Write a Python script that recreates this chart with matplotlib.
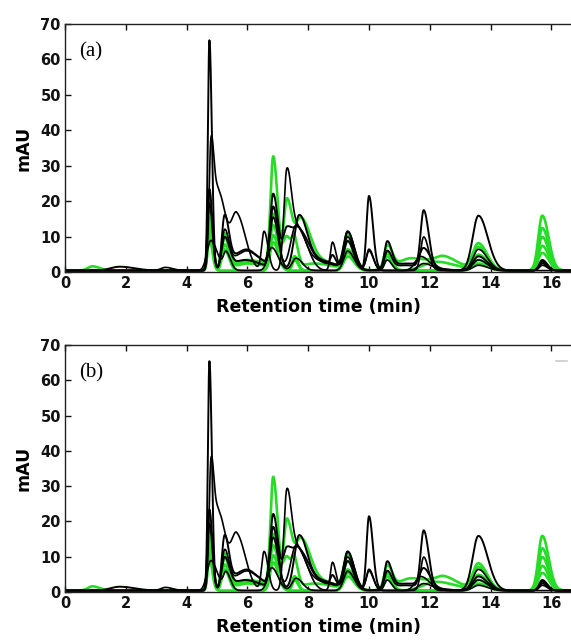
import numpy as np
import matplotlib
matplotlib.use("Agg")
import matplotlib.pyplot as plt

# ---------------- data (peak tables) ----------------
# each trace: peak centres (min), heights (mAU), widths (sigma, min)
t1_c = [4.75, 5.25, 5.9, 6.85, 7.30, 7.70, 8.20, 8.80, 9.30, 10.00, 10.60, 11.20, 11.80, 13.60, 15.70]
t1_h = [65.0, 9.0, 3.0, 21.0, 11.0, 10.0, 2.5, 3.0, 8.0, 21.0, 5.0, 1.5, 16.0, 15.5, 2.5]
t1_w = [0.05, 0.10, 0.35, 0.10, 0.12, 0.18, 0.35, 0.07, 0.12, 0.08, 0.09, 0.45, 0.10, 0.19, 0.10]

t2_c = [3.30, 4.80, 5.05, 5.65, 6.55, 7.30, 7.70, 8.80, 9.30, 10.00, 11.80, 13.60, 15.70]
t2_h = [0.9, 32.0, 22.0, 15.5, 11.0, 28.0, 11.0, 8.0, 11.0, 6.0, 9.5, 6.0, 2.0]
t2_w = [0.15, 0.06, 0.15, 0.18, 0.08, 0.10, 0.18, 0.07, 0.13, 0.09, 0.10, 0.18, 0.10]

t3_c = [1.80, 4.75, 5.25, 5.70, 6.10, 6.85, 7.70, 8.30, 9.30, 10.60, 11.20, 11.80, 13.60, 15.70]
t3_h = [1.1, 23.0, 15.0, 3.5, 3.5, 17.0, 15.0, 3.0, 10.5, 7.5, 2.0, 5.0, 4.0, 3.0]
t3_w = [0.30, 0.06, 0.09, 0.25, 0.30, 0.10, 0.16, 0.35, 0.13, 0.09, 0.45, 0.13, 0.18, 0.10]

t4_c = [4.75, 5.25, 5.70, 6.10, 6.85, 7.60, 8.30, 9.30, 10.00, 11.70, 13.60, 15.70]
t4_h = [19.0, 11.0, 3.0, 3.5, 14.0, 12.5, 2.5, 9.0, 5.5, 4.0, 3.0, 1.5]
t4_w = [0.06, 0.09, 0.25, 0.30, 0.10, 0.18, 0.35, 0.13, 0.09, 0.18, 0.18, 0.10]

t5_c = [4.80, 5.30, 6.80, 7.60, 9.30, 10.60, 11.80, 13.60]
t5_h = [8.5, 5.0, 6.5, 3.5, 5.5, 3.0, 2.0, 1.5]
t5_w = [0.13, 0.09, 0.13, 0.13, 0.13, 0.09, 0.18, 0.18]

g1_c = [4.75, 5.25, 6.00, 6.85, 7.30, 7.75, 8.20, 9.30, 10.60, 11.40, 12.50, 13.60, 15.70]
g1_h = [19.0, 10.0, 3.0, 31.0, 19.0, 13.0, 3.0, 9.5, 6.5, 3.5, 3.0, 7.5, 15.5]
g1_w = [0.06, 0.10, 0.40, 0.09, 0.10, 0.18, 0.40, 0.13, 0.10, 0.45, 0.30, 0.18, 0.13]

g2_c = [0.90, 4.75, 5.25, 6.00, 6.85, 7.30, 7.55, 8.20, 9.30, 10.60, 12.20, 13.60, 15.70]
g2_h = [1.2, 15.0, 9.0, 2.5, 15.0, 9.0, 5.0, 2.0, 8.0, 5.0, 2.5, 6.5, 12.0]
g2_w = [0.15, 0.06, 0.09, 0.40, 0.10, 0.13, 0.07, 0.40, 0.13, 0.10, 0.40, 0.18, 0.13]

g3_c = [4.75, 5.25, 6.00, 6.85, 7.55, 9.30, 10.60, 13.60, 15.70]
g3_h = [13.0, 7.0, 2.0, 12.0, 4.0, 6.0, 4.0, 4.5, 9.5]
g3_w = [0.06, 0.09, 0.40, 0.10, 0.07, 0.13, 0.10, 0.18, 0.13]

g4_c = [4.75, 5.25, 6.85, 7.55, 9.30, 13.60, 15.70]
g4_h = [11.0, 6.0, 10.0, 3.0, 5.0, 3.0, 7.0]
g4_w = [0.06, 0.09, 0.10, 0.07, 0.13, 0.18, 0.13]

g5_c = [4.75, 6.85, 9.30, 13.60, 15.70]
g5_h = [9.0, 8.0, 4.0, 2.0, 5.0]
g5_w = [0.06, 0.10, 0.13, 0.18, 0.13]

traces = [
    (g1_c, g1_h, g1_w, "#27dc27", 1.9),
    (g2_c, g2_h, g2_w, "#27dc27", 1.9),
    (g3_c, g3_h, g3_w, "#27dc27", 1.9),
    (g4_c, g4_h, g4_w, "#27dc27", 1.9),
    (g5_c, g5_h, g5_w, "#27dc27", 1.9),
    (t1_c, t1_h, t1_w, "black", 1.4),
    (t2_c, t2_h, t2_w, "black", 1.2),
    (t3_c, t3_h, t3_w, "black", 1.4),
    (t4_c, t4_h, t4_w, "black", 1.2),
    (t5_c, t5_h, t5_w, "black", 1.2),
]

panel_labels = ["(a)", "(b)"]
x_ticks = [0, 2, 4, 6, 8, 10, 12, 14, 16]
y_ticks = [0, 10, 20, 30, 40, 50, 60, 70]
baseline_level = 0.4
tail_factor = 1.6   # peak tailing: right-side width relative to left

# ---------------- figure ----------------
plt.rcParams["font.family"] = ["DejaVu Sans"]
fig = plt.figure(figsize=(5.71, 6.41), dpi=100)

W, H = 571, 641
left_px, right_px = 65, 571
panels_px = [(24, 272), (345, 592)]
x_max = (right_px - left_px) / 30.4

t = np.linspace(0, 17, 3401)

def chromatogram(c, h, w):
    y = np.zeros_like(t)
    for ci, hi, wi in zip(c, h, w):
        s = np.where(t < ci, wi, wi * tail_factor)
        y += hi * np.exp(-0.5 * ((t - ci) / s) ** 2)
    y += baseline_level
    return y

for i, ((top, bot), lab) in enumerate(zip(panels_px, panel_labels)):
    ax = fig.add_axes([left_px / W, 1 - bot / H, (right_px - left_px) / W, (bot - top) / H])
    for c, h, w, col, lw in traces:
        ax.plot(t, chromatogram(c, h, w), color=col, lw=lw)
    ax.set_xlim(0, x_max)
    ax.set_ylim(0, 70)
    ax.set_xticks(x_ticks)
    ax.set_yticks(y_ticks)
    ax.spines["right"].set_visible(False)
    for s in ["top", "left", "bottom"]:
        ax.spines[s].set_linewidth(1.0)
        ax.spines[s].set_color("#222222")
    ax.tick_params(direction="in", top=True, bottom=True, left=True, right=False,
                   length=4, width=1, labelsize=10.5, pad=3, colors="#111111")
    for lbl in ax.get_xticklabels() + ax.get_yticklabels():
        lbl.set_fontweight("bold")
    ax.set_xlabel("Retention time (min)", fontsize=12.5, fontweight="bold", labelpad=5)
    ax.set_ylabel("mAU", fontsize=12.5, fontweight="bold", labelpad=6)
    ax.text(0.45, 62, lab, fontsize=15, family=["Liberation Serif", "DejaVu Serif"],
            va="center", ha="left")
    if i == 1:
        ax.plot([16.15, 16.5], [65.5, 65.5], color="#cccccc", lw=1.2)

fig.savefig("out.png", dpi=100)
